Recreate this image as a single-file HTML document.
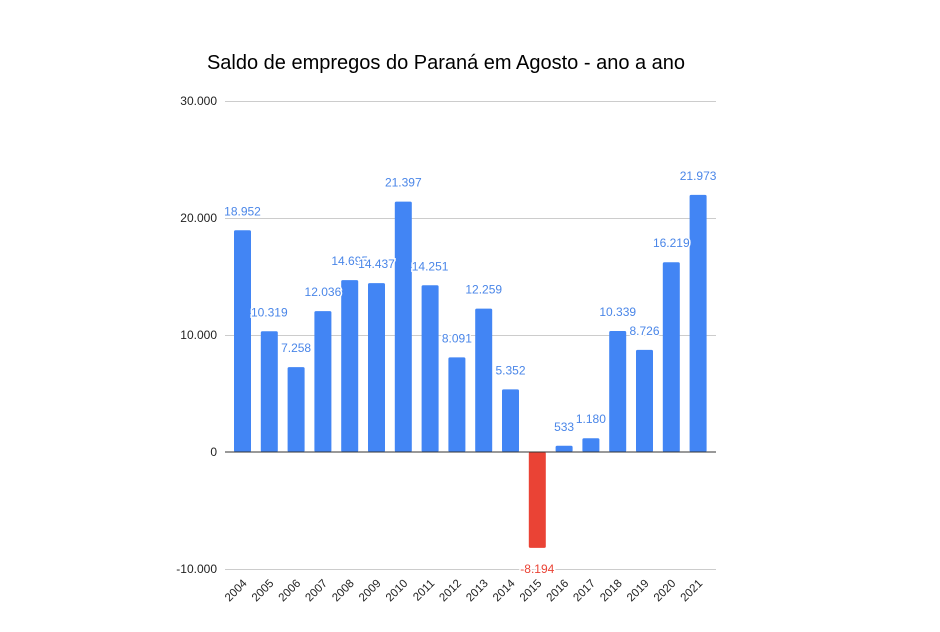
<!DOCTYPE html>
<html><head><meta charset="utf-8"><style>
html,body{margin:0;padding:0;background:#fff;}
svg text{font-family:"Liberation Sans",Arial,sans-serif;}
</style></head><body>
<svg id="c" width="940" height="627" xmlns="http://www.w3.org/2000/svg">
<rect width="940" height="627" fill="#fff"/>
<text x="446" y="69" text-anchor="middle" font-size="20" fill="#000">Saldo de empregos do Paraná em Agosto - ano a ano</text>
<g stroke="#cccccc" stroke-width="1">
<line x1="225" x2="716" y1="101.5" y2="101.5"/>
<line x1="225" x2="716" y1="218.5" y2="218.5"/>
<line x1="225" x2="716" y1="335.5" y2="335.5"/>
<line x1="225" x2="716" y1="569.5" y2="569.5"/>
</g>
<g font-size="12" fill="#222" text-anchor="end">
<text x="217" y="105">30.000</text>
<text x="217" y="222">20.000</text>
<text x="217" y="339">10.000</text>
<text x="217" y="456">0</text>
<text x="217" y="573">-10.000</text>
</g>
<g id="bars"></g>
<line x1="225" x2="716" y1="452" y2="452" stroke="#333" stroke-width="1"/>
<g id="labels"></g>
</svg>
<script>
(function(){
var v=[18952,10319,7258,12036,14695,14437,21397,14251,8091,12259,5352,-8194,533,1180,10339,8726,16219,21973];
var lab=["18.952","10.319","7.258","12.036","14.695","14.437","21.397","14.251","8.091","12.259","5.352","-8.194","533","1.180","10.339","8.726","16.219","21.973"];
var ns="http://www.w3.org/2000/svg",b=document.getElementById("bars"),l=document.getElementById("labels");
function el(t,a,p,txt){var e=document.createElementNS(ns,t);for(var k in a)e.setAttribute(k,a[k]);if(txt)e.textContent=txt;p.appendChild(e);return e;}
for(var i=0;i<18;i++){
 var x=234+i*26.8,w=17,h=Math.abs(v[i])*0.0117,y0=452;
 var neg=v[i]<0,col=neg?"#ea4335":"#4285f4";
 var ty0=neg?y0:y0-h;
 el("rect",{x:x,y:ty0,width:w,height:h,fill:col,rx:1.5},b);
 var cx=x+w/2;
 var ty=neg?573:ty0-15;
 el("text",{x:cx,y:ty,"text-anchor":"middle","font-size":"12",fill:neg?"#ea4335":"#4a86e8",stroke:"#fff","stroke-width":"3","paint-order":"stroke"},l,lab[i]);
 el("text",{x:0,y:0,"text-anchor":"end","font-size":"11.5",fill:"#222",transform:"translate("+(cx+5)+",584) rotate(-45)"},l,String(2004+i));
}
})();
</script>
</body></html>
